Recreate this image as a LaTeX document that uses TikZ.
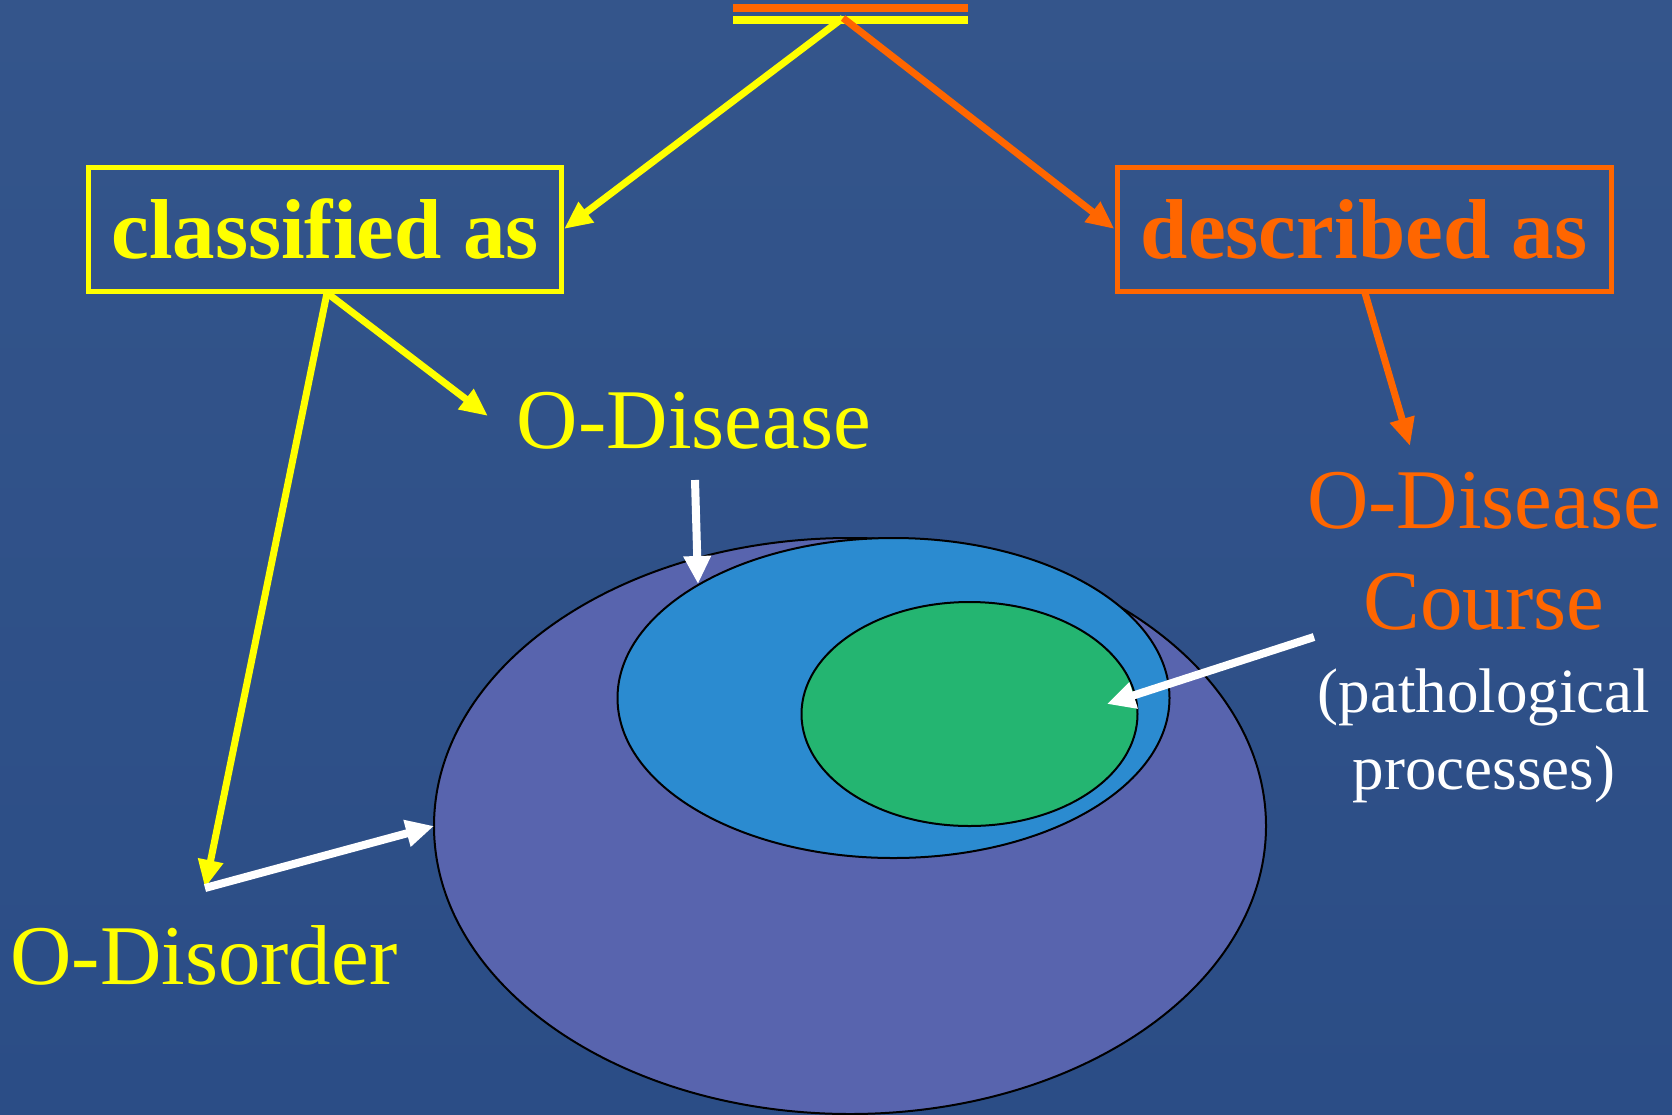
\documentclass[tikz,border=0pt]{standalone}
\usepackage{fontspec}
\setmainfont{Liberation Serif}
\usetikzlibrary{arrows.meta}
\definecolor{bgtop}{HTML}{34558B}
\definecolor{bgbot}{HTML}{2B4D86}
\definecolor{outerc}{HTML}{5864AE}
\definecolor{bluec}{HTML}{2B8BD0}
\definecolor{greenc}{HTML}{24B571}
\definecolor{yel}{HTML}{FFFF00}
\definecolor{ora}{HTML}{FF6600}
\tikzset{
  big/.style={font=\fontsize{85}{100}\selectfont},
  small/.style={font=\fontsize{63}{75}\selectfont},
  boxy/.style={draw=#1, line width=5pt, text=#1, minimum width=473pt, minimum height=124pt, inner sep=0pt, font=\fontsize{85}{100}\selectfont\bfseries},
  lbl/.style={inner sep=0pt, anchor=base},
  yarr/.style={draw=yel, line width=7pt, -{Triangle[length=28pt,width=24pt]}},
  oarr/.style={draw=ora, line width=7pt, -{Triangle[length=28pt,width=24pt]}},
  warr/.style={draw=white, line width=8pt, -{Triangle[length=28pt,width=26pt]}},
  ell/.style={draw=black, line width=2pt},
}
\begin{document}
\begin{tikzpicture}[x=1pt,y=-1pt]
\useasboundingbox (0,0) rectangle (1672,1114);
\shade[top color=bgtop, bottom color=bgbot] (0,0) rectangle (1672,1114);
% ellipses
\draw[ell, fill=outerc] (850,826) ellipse [x radius=416, y radius=288];
\draw[ell, fill=bluec] (893.5,698) ellipse [x radius=276, y radius=160];
\draw[ell, fill=greenc] (969.5,714) ellipse [x radius=168, y radius=112];
\coordinate (outerW) at (434,826);
\coordinate (blueNW) at (698,584);
\coordinate (greenE) at (1107,704);
% top bar
\coordinate (barL1) at (733,8); \coordinate (barR1) at (968,8);
\coordinate (barL2) at (733,20); \coordinate (barR2) at (968,20);
\draw[ora, line width=8pt] (barL1) -- (barR1);
\draw[yel, line width=8pt] (barL2) -- (barR2);
\coordinate (root) at (843,18);
% boxes
\node[boxy=yel] (cls) at (325,229) {classified as};
\node[boxy=ora, minimum width=494pt] (des) at (1364,229) {described as};
% labels
\node[lbl, big, text=yel] (odis) at (694,448) {O-Disease};
\node[lbl, big, text=yel] (odisord) at (204,984) {O-Disorder};
\node[lbl, big, text=ora] (odc1) at (1484,528) {O-Disease};
\node[lbl, big, text=ora] (odc2) at (1484,629) {Course};
\node[lbl, small, text=white] (pp1) at (1484,712) {(pathological};
\node[lbl, small, text=white] (pp2) at (1484,789) {processes)};
% connector endpoints
\coordinate (clsS) at (327,293);
\coordinate (odisTip) at (488,416);
\coordinate (disTip) at (205,888);
\coordinate (desS) at (1365,293);
\coordinate (odcTip) at (1410,446);
\coordinate (odisB) at (695,480);
\coordinate (pathS) at (1314,637);
% connectors
\draw[yarr] (root) -- (cls.east);
\draw[oarr] (root) -- (des.west);
\draw[yarr] (clsS) -- (odisTip);
\draw[yarr] (clsS) -- (disTip);
\draw[oarr] (desS) -- (odcTip);
\draw[warr] (odisB) -- (blueNW);
\draw[warr] (disTip) -- (outerW);
\draw[warr] (pathS) -- (greenE);
\end{tikzpicture}
\end{document}
